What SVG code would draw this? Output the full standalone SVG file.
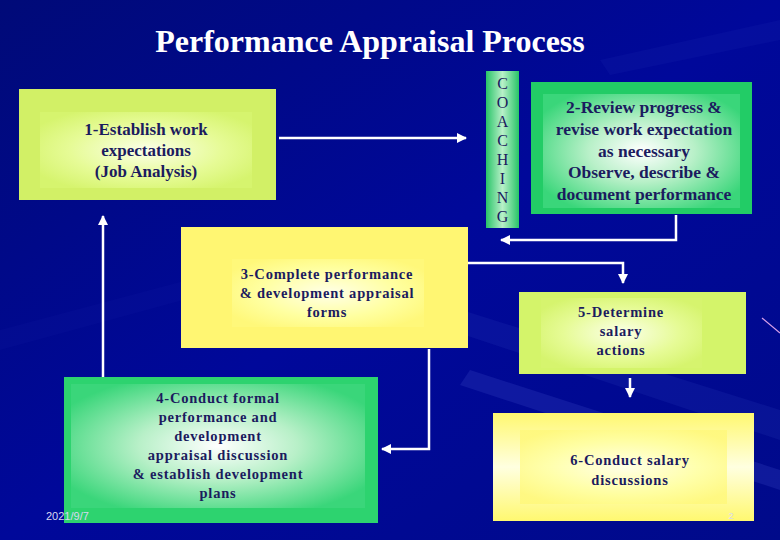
<svg xmlns="http://www.w3.org/2000/svg" width="780" height="540" viewBox="0 0 780 540">
<defs>
<style>
.t{font-family:"Liberation Serif","Times New Roman",serif;font-weight:bold;fill:#1b1b5e;text-anchor:middle}
.a{font-size:17px}
.a2{font-size:17.5px}
.b{font-size:14.5px;letter-spacing:0.8px}
.c{font-family:"Liberation Serif","Times New Roman",serif;font-size:16px;fill:#1b1b5e;text-anchor:middle}
.ln{fill:none;stroke:#ffffff;stroke-width:2.5}
</style>
<linearGradient id="bg" x1="0" y1="0" x2="1" y2="1">
<stop offset="0" stop-color="#000a78"/>
<stop offset="0.5" stop-color="#00089a"/>
<stop offset="1" stop-color="#000a8a"/>
</linearGradient>
<radialGradient id="gYG" cx="0.5" cy="0.5" r="0.6">
<stop offset="0" stop-color="#fbffe8"/>
<stop offset="0.6" stop-color="#e6fb96"/>
<stop offset="1" stop-color="#d6f46e"/>
</radialGradient>
<radialGradient id="gG" cx="0.5" cy="0.5" r="0.6">
<stop offset="0" stop-color="#ffffff"/>
<stop offset="0.45" stop-color="#b8f0c8"/>
<stop offset="1" stop-color="#3ad67a"/>
</radialGradient>
<radialGradient id="gY" cx="0.5" cy="0.5" r="0.6">
<stop offset="0" stop-color="#ffffe8"/>
<stop offset="0.6" stop-color="#ffffa0"/>
<stop offset="1" stop-color="#fff87a"/>
</radialGradient>
<linearGradient id="gC" x1="0" y1="0" x2="1" y2="0">
<stop offset="0" stop-color="#28c468"/>
<stop offset="0.5" stop-color="#b8f0c8"/>
<stop offset="1" stop-color="#28c468"/>
</linearGradient>
<linearGradient id="gY6" x1="0" y1="0" x2="0" y2="1">
<stop offset="0" stop-color="#fff870"/>
<stop offset="0.5" stop-color="#ffffe0"/>
<stop offset="1" stop-color="#fff870"/>
</linearGradient>
<marker id="ah" viewBox="0 0 10 10" refX="9" refY="5" markerWidth="4" markerHeight="4" orient="auto" markerUnits="strokeWidth">
<path d="M0,0 L10,5 L0,10 z" fill="#ffffff"/>
</marker>
</defs>

<g id="background">
<rect width="780" height="540" fill="url(#bg)"/>
<polygon points="430,300 780,410 780,440 420,320" fill="#2a3ab8" opacity="0.2"/>
<polygon points="470,370 780,470 780,490 460,385" fill="#3a4ac8" opacity="0.25"/>
<polygon points="0,330 300,250 330,260 0,350" fill="#1a2ab0" opacity="0.1"/>
<polygon points="600,60 780,20 780,40 610,75" fill="#1a2ab0" opacity="0.2"/>
<line x1="762" y1="318" x2="780" y2="333" stroke="#d8a0e8" stroke-width="1.2"/>
</g>

<text x="370" y="52" font-family="Liberation Serif, Times New Roman, serif" font-size="32" font-weight="bold" fill="#ffffff" text-anchor="middle">Performance Appraisal Process</text>

<g id="connectors">
<line class="ln" x1="279" y1="138" x2="466" y2="138" marker-end="url(#ah)"/>
<polyline class="ln" points="676,215 676,240 501,240" marker-end="url(#ah)"/>
<polyline class="ln" points="468,263 623,263 623,283" marker-end="url(#ah)"/>
<polyline class="ln" points="429,349 429,449 382,449" marker-end="url(#ah)"/>
<line class="ln" x1="103" y1="377" x2="103" y2="216" marker-end="url(#ah)"/>
<line class="ln" x1="630" y1="378" x2="630" y2="397" marker-end="url(#ah)"/>
</g>

<g id="node1">
<rect x="19" y="89" width="257" height="111" fill="#d2f066"/>
<rect x="40" y="112" width="212" height="76" fill="url(#gYG)"/>
<text class="t a" x="146" y="135">1-Establish work</text>
<text class="t a" x="146" y="156">expectations</text>
<text class="t a" x="146" y="177">(Job Analysis)</text>
</g>

<g id="coaching">
<rect x="486" y="71" width="33" height="157" fill="url(#gC)"/>
<text class="c" x="502.5" y="89">C</text>
<text class="c" x="502.5" y="108">O</text>
<text class="c" x="502.5" y="127">A</text>
<text class="c" x="502.5" y="146">C</text>
<text class="c" x="502.5" y="165">H</text>
<text class="c" x="502.5" y="184">I</text>
<text class="c" x="502.5" y="203">N</text>
<text class="c" x="502.5" y="222">G</text>
</g>

<g id="node2">
<rect x="531" y="82" width="221" height="132" fill="#22cc66"/>
<rect x="543" y="94" width="197" height="114" fill="url(#gG)"/>
<text class="t a2" x="644" y="113">2-Review progress &amp;</text>
<text class="t a2" x="644" y="135">revise work expectation</text>
<text class="t a2" x="644" y="157">as necessary</text>
<text class="t a2" x="644" y="178">Observe, describe &amp;</text>
<text class="t a2" x="644" y="200">document performance</text>
</g>

<g id="node3">
<rect x="181" y="227" width="287" height="121" fill="#fff672"/>
<rect x="232" y="259" width="192" height="68" fill="url(#gY)"/>
<text class="t b" x="327" y="279">3-Complete performance</text>
<text class="t b" x="327" y="298">&amp; development appraisal</text>
<text class="t b" x="327" y="317">forms</text>
</g>

<g id="node4">
<rect x="64" y="377" width="314" height="146" fill="#2dd36f"/>
<rect x="71" y="384" width="294" height="124" fill="url(#gG)"/>
<text class="t b" x="218" y="403">4-Conduct formal</text>
<text class="t b" x="218" y="422">performance and</text>
<text class="t b" x="218" y="441">development</text>
<text class="t b" x="218" y="460">appraisal discussion</text>
<text class="t b" x="218" y="479">&amp; establish development</text>
<text class="t b" x="218" y="498">plans</text>
</g>

<g id="node5">
<rect x="519" y="292" width="227" height="82" fill="#d4f46a"/>
<rect x="541" y="298" width="161" height="70" fill="url(#gYG)"/>
<text class="t b" x="621" y="317">5-Determine</text>
<text class="t b" x="621" y="336">salary</text>
<text class="t b" x="621" y="355">actions</text>
</g>

<g id="node6">
<rect x="493" y="413" width="261" height="108" fill="url(#gY6)"/>
<rect x="520" y="430" width="207" height="74" fill="url(#gY)" opacity="0.8"/>
<text class="t b" x="630" y="465">6-Conduct salary</text>
<text class="t b" x="630" y="485">discussions</text>
</g>

<text x="46" y="520" font-family="Liberation Sans, Arial, sans-serif" font-size="11" fill="#d8d8f0">2021/9/7</text>
<text x="731" y="519" font-family="Liberation Sans, Arial, sans-serif" font-size="9" fill="#d8d8f0" text-anchor="middle">2</text>
</svg>
